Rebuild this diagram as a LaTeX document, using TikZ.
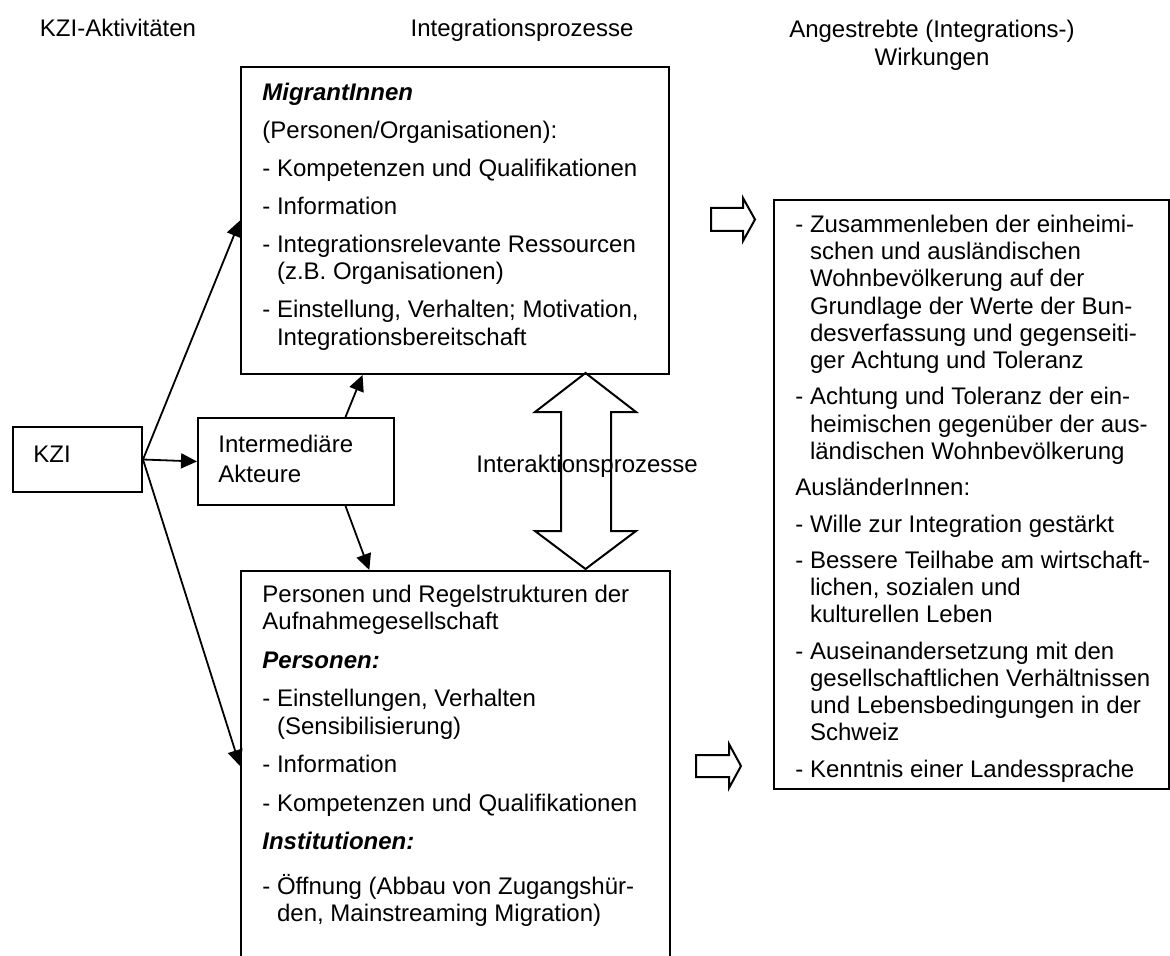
\documentclass[tikz,border=0pt]{standalone}
\usepackage{fontspec}
\setmainfont{Liberation Sans}
\usetikzlibrary{arrows.meta,calc}
% indentation for continuation lines of a "- " item
\newcommand\contind{\phantom{- }}
% fixed ascent for the first line, so the first baseline sits 10pt below the node top
\newcommand\strutup{\rule{0pt}{10pt}}
\begin{document}
\begin{tikzpicture}[x=0.5pt,y=-0.5pt,
  box/.style={draw,line width=1pt,rectangle,inner sep=0pt,anchor=north west},
  txt/.style={inner sep=0pt,anchor=north west,align=left,
              font=\fontsize{12pt}{13.75pt}\selectfont},
  rtxt/.style={txt,font=\fontsize{12pt}{13.6pt}\selectfont},
  head/.style={inner sep=0pt,font=\fontsize{12pt}{14pt}\selectfont},
  conn/.style={line width=0.9pt,-{Triangle[length=8pt,width=7.5pt]}},
  blockarrow/.style={draw,line width=1pt,line join=miter}]
\clip (0,0) rectangle (1170,956);
\fill[white] (0,0) rectangle (1170,956);

% column headings
\node[head,anchor=base] (h1) at (118,37) {KZI-Aktivitäten};
\node[head,anchor=base] (h2) at (522,37) {Integrationsprozesse};
\node[head,anchor=north,align=center] (h3) at (932,17)
  {\strutup Angestrebte (Integrations-)\\Wirkungen};

% boxes
\node[box,minimum width=64.5pt,minimum height=32.5pt] (kzi) at (12,426) {};
\node[box,minimum width=98pt,minimum height=43.5pt] (inter) at (197,417) {};
\node[box,minimum width=214pt,minimum height=153.5pt] (top) at (240,66) {};
\node[box,minimum width=214.5pt,minimum height=195pt] (low) at (240,570) {};
\node[box,minimum width=197.5pt,minimum height=294.5pt] (res) at (773,199) {};

% box texts
\node[head,anchor=base west] (kzit) at (33,462) {KZI};
\node[txt,font=\fontsize{12pt}{15pt}\selectfont] (intert) at (218,432)
  {\strutup Intermediäre\\Akteure};

\node[txt] (topt) at (262,80) {\strutup\textbf{\textit{MigrantInnen}}\\[5.25pt]
(Personen/Organisationen):\\[5.25pt]
- Kompetenzen und Qualifikationen\\[5.25pt]
- Information\\[5.25pt]
- Integrationsrelevante Ressourcen\\
\contind(z.B. Organisationen)\\[5.25pt]
- Einstellung, Verhalten; Motivation,\\
\contind Integrationsbereitschaft};

\node[txt] (lowt) at (262,582) {\strutup Personen und Regelstrukturen der\\
Aufnahmegesellschaft\\[5.5pt]
\textbf{\textit{Personen:}}\\[5.5pt]
- Einstellungen, Verhalten\\
\contind(Sensibilisierung)\\[5.5pt]
- Information\\[5.5pt]
- Kompetenzen und Qualifikationen\\[5.5pt]
\textbf{\textit{Institutionen:}}\\[8.5pt]
- Öffnung (Abbau von Zugangshür-\\
\contind den, Mainstreaming Migration)};

\node[rtxt] (rest) at (795,212) {\strutup- Zusammenleben der einheimi-\\
\contind schen und ausländischen\\
\contind Wohnbevölkerung auf der\\
\contind Grundlage der Werte der Bun-\\
\contind desverfassung und gegenseiti-\\
\contind ger Achtung und Toleranz\\[4.6pt]
- Achtung und Toleranz der ein-\\
\contind heimischen gegenüber der aus-\\
\contind ländischen Wohnbevölkerung\\[4.6pt]
AusländerInnen:\\[4.6pt]
- Wille zur Integration gestärkt\\[4.6pt]
- Bessere Teilhabe am wirtschaft-\\
\contind lichen, sozialen und\\
\contind kulturellen Leben\\[4.6pt]
- Auseinandersetzung mit den\\
\contind gesellschaftlichen Verhältnissen\\
\contind und Lebensbedingungen in der\\
\contind Schweiz\\[4.6pt]
- Kenntnis einer Landessprache};

% connectors
\draw[conn] (kzi.east) -- (top.west);
\draw[conn] (kzi.east) -- (inter.west);
\draw[conn] (kzi.east) -- (low.west);
\draw[conn] ($(inter.north west)!0.75!(inter.north east)$)
  -- ($(top.south west)!0.285!(top.south east)$);
\draw[conn] ($(inter.south west)!0.75!(inter.south east)$)
  -- ($(low.north west)!0.3!(low.north east)$);

% two-headed block arrow between the two process boxes
\draw[blockarrow] (585.5,373) -- (636,412) -- (611,412) -- (611,531) -- (636,531)
  -- (585.5,569) -- (535,531) -- (561,531) -- (561,412) -- (535,412) -- cycle;
\node[head,anchor=base west] (ia) at (476,472) {Interaktionsprozesse};

% block arrows pointing to the effects
\draw[blockarrow] (711,208) -- (743,208) -- (743,198) -- (755,219.5) -- (743,241)
  -- (743,231) -- (711,231) -- cycle;
\draw[blockarrow] (696,755) -- (729,755) -- (729,744) -- (741,766) -- (729,788)
  -- (729,777) -- (696,777) -- cycle;
\end{tikzpicture}
\end{document}
